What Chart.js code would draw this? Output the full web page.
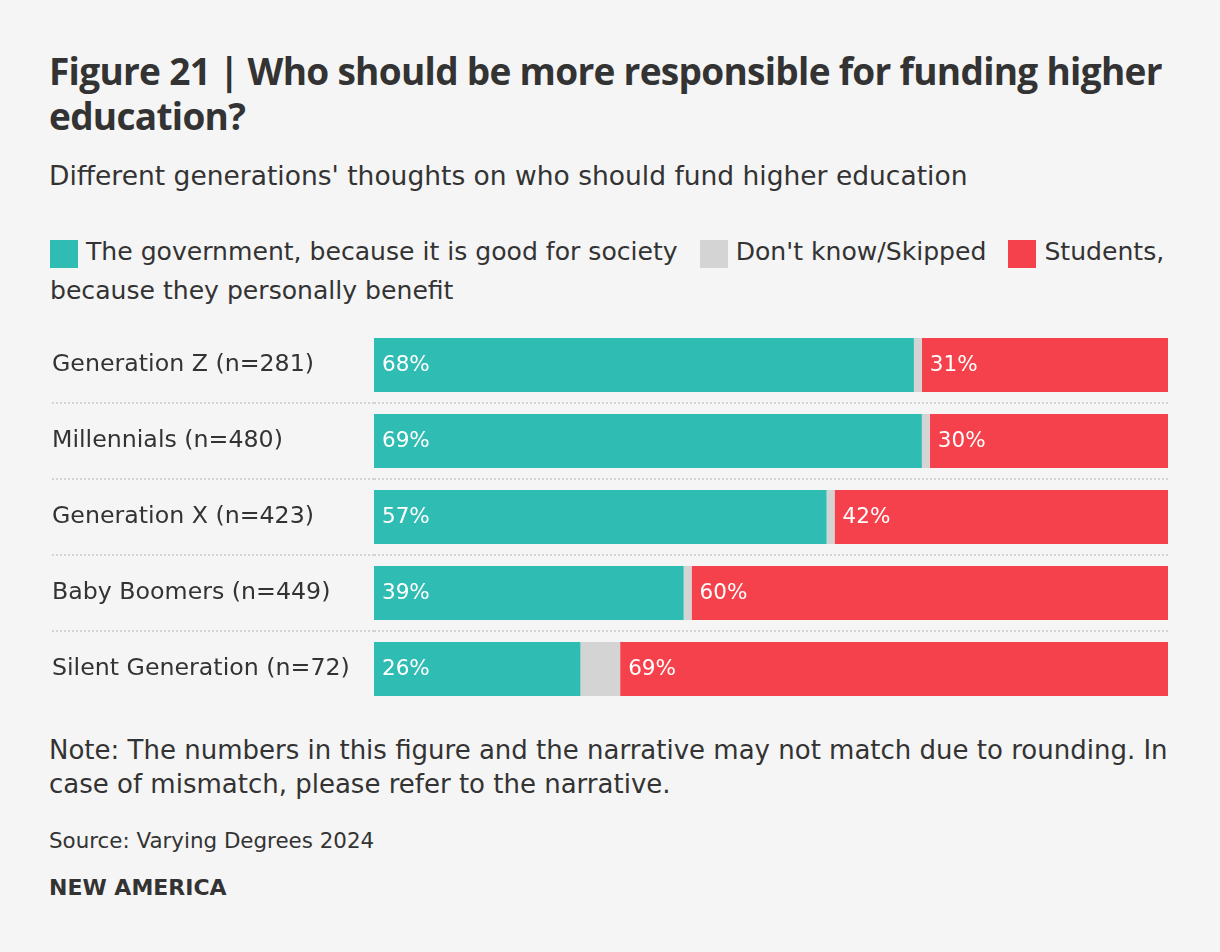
<!DOCTYPE html>
<html>
<head>
<meta charset="utf-8">
<script src="https://cdn.jsdelivr.net/npm/chart.js@4.4.1/dist/chart.umd.min.js"></script>
<style>
  html, body { margin: 0; padding: 0; background: #f5f5f5; }
  body { width: 1220px; height: 952px; position: relative; font-family: "DejaVu Sans", sans-serif; color: #333; overflow: hidden; }
  #title { position: absolute; left: 49px; top: 48.2px; width: 1140px; font-family: "Open Sans", sans-serif; font-size: 37px; font-weight: 700; line-height: 45px; letter-spacing: -0.7px; color: #333; }
  #subtitle { position: absolute; left: 49px; top: 158px; font-size: 26.5px; line-height: 36px; color: #333; white-space: nowrap; }
  #legend { position: absolute; left: 50px; top: 232px; width: 1130px; font-size: 25.1px; line-height: 39px; color: #333; }
  #legend .sw { display: inline-block; width: 28px; height: 28px; vertical-align: -8px; margin-right: 8px; }
  #legend .item { margin-right: 14px; }
  #legend .nb { white-space: nowrap; }
  #wrap { position: absolute; left: 52px; top: 327px; width: 1116px; height: 380px; }
  #note { position: absolute; left: 49px; top: 734px; width: 1128px; font-size: 26px; line-height: 33.5px; color: #333; }
  #source { position: absolute; left: 49px; top: 827px; font-size: 21.4px; line-height: 28px; color: #333; white-space: nowrap; }
  #brand { position: absolute; left: 49px; top: 874px; font-size: 22px; line-height: 28px; font-weight: 700; color: #333; white-space: nowrap; }
</style>
</head>
<body>
<div id="title">Figure 21 | Who should be more responsible for funding higher education?</div>
<div id="subtitle">Different generations' thoughts on who should fund higher education</div>
<div id="legend"></div>
<div id="wrap"><canvas id="c"></canvas></div>
<div id="note">Note: The numbers in this figure and the narrative may not match due to rounding. In case of mismatch, please refer to the narrative.</div>
<div id="source">Source: Varying Degrees 2024</div>
<div id="brand">NEW AMERICA</div>
<script>
const categories = ["Generation Z (n=281)", "Millennials (n=480)", "Generation X (n=423)", "Baby Boomers (n=449)", "Silent Generation (n=72)"];
const seriesNames = ["The government, because it is good for society", "Don't know/Skipped", "Students, because they personally benefit"];
const government = [68, 69, 57, 39, 26];
const dontKnow = [1, 1, 1, 1, 5];
const students = [31, 30, 42, 60, 69];
const colors = ["#2fbcb3", "#d4d4d4", "#f5414b"];
const showLabel = [true, false, true];

// HTML legend (swatch kept together with the first word)
const leg = document.getElementById('legend');
seriesNames.forEach((n, i) => {
  const s = document.createElement('span');
  s.className = 'item';
  const sp = n.indexOf(' ');
  const first = sp < 0 ? n : n.slice(0, sp);
  const rest = sp < 0 ? '' : n.slice(sp);
  s.innerHTML = '<span class="nb"><span class="sw" style="background:' + colors[i] + '"></span>' + first + '</span>' + rest;
  leg.appendChild(s);
  leg.appendChild(document.createTextNode(' '));
});

const FONT = '"DejaVu Sans", sans-serif';

const valueLabels = {
  id: 'valueLabels',
  afterDatasetsDraw(chart) {
    const ctx = chart.ctx;
    ctx.save();
    ctx.font = '21.5px ' + FONT;
    ctx.fillStyle = '#ffffff';
    ctx.textAlign = 'left';
    ctx.textBaseline = 'middle';
    chart.data.datasets.forEach((ds, di) => {
      if (!showLabel[di]) return;
      const meta = chart.getDatasetMeta(di);
      meta.data.forEach((bar, i) => {
        const left = Math.min(bar.x, bar.base);
        ctx.fillText(ds.data[i] + '%', left + 8, bar.y);
      });
    });
    ctx.restore();
  }
};

const n = categories.length;
const lineCol = (c) => (c.index === undefined || c.index === 0 || c.index >= n) ? 'rgba(0,0,0,0)' : '#d4d4d4';
new Chart(document.getElementById('c'), {
  type: 'bar',
  data: {
    labels: categories,
    datasets: [
      { label: seriesNames[0], data: government, backgroundColor: colors[0] },
      { label: seriesNames[1], data: dontKnow, backgroundColor: colors[1] },
      { label: seriesNames[2], data: students, backgroundColor: colors[2] }
    ]
  },
  options: {
    indexAxis: 'y',
    responsive: true,
    maintainAspectRatio: false,
    animation: false,
    layout: { padding: 0 },
    datasets: { bar: { categoryPercentage: 0.71, barPercentage: 1, borderWidth: 0 } },
    plugins: { legend: { display: false }, tooltip: { enabled: false } },
    scales: {
      x: { stacked: true, min: 0, max: 100, display: false },
      y: {
        stacked: true,
        border: { display: false, dash: [2, 2] },
        grid: {
          offset: true,
          drawTicks: true,
          tickLength: 322,
          lineWidth: 2,
          tickWidth: 2,
          tickBorderDash: [2, 2],
          color: lineCol,
          tickColor: lineCol
        },
        ticks: { crossAlign: 'far', padding: 0, color: '#333', font: { family: FONT, size: 23.7 } },
        afterFit(scale) { scale.width = 322; scale.paddingTop = 0; scale.paddingBottom = 0; }
      }
    }
  },
  plugins: [valueLabels]
});
</script>
</body>
</html>
